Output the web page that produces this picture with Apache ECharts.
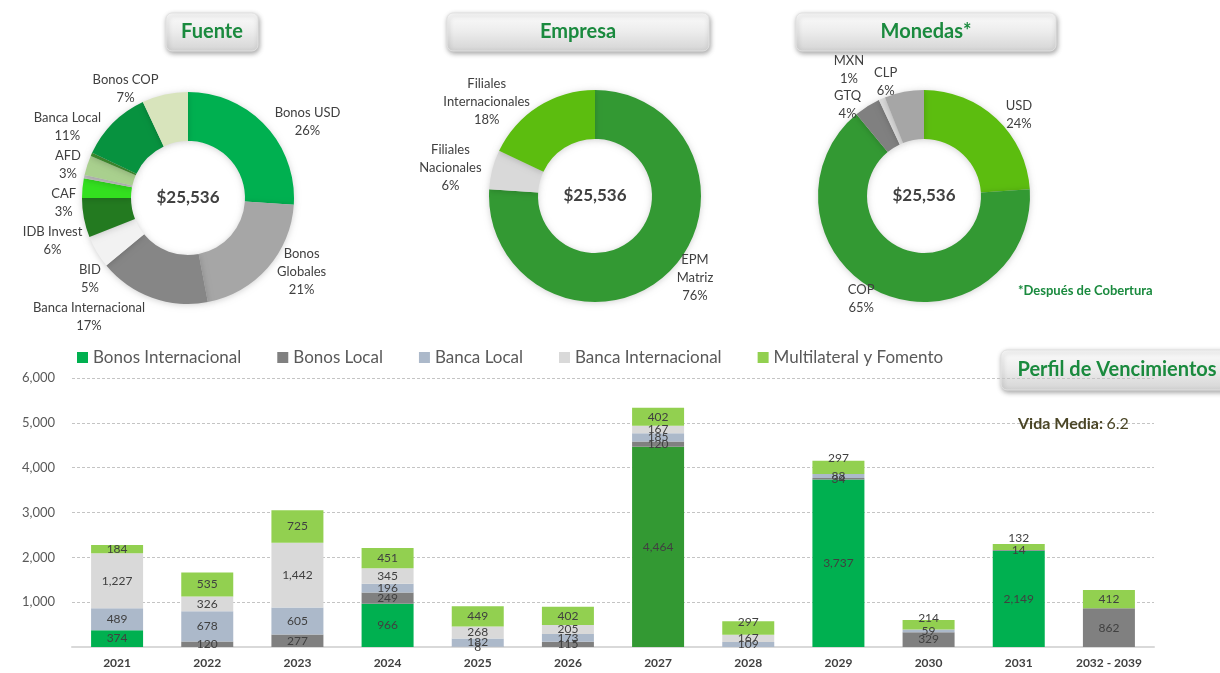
<!DOCTYPE html>
<html>
<head>
<meta charset="utf-8">
<script src="https://cdn.jsdelivr.net/npm/echarts@6/dist/echarts.min.js"></script>
<style>
html,body{margin:0;padding:0;background:#fff;}
#chart{width:1220px;height:673px;}
</style>
</head>
<body>
<div id="chart"></div>
<script>
// ---------- Donut data ----------
const totalDebt = '$25,536';

const fuenteNames  = ['Bonos USD','Bonos Globales','Banca Internacional','BID','IDB Invest','CAF','Otros A','AFD','Otros B','Banca Local','Bonos COP'];
const fuenteLabels = ['Bonos USD','Bonos\nGlobales','Banca Internacional','BID','IDB Invest','CAF','','AFD','','Banca Local','Bonos COP'];
const fuenteValues = [26, 21, 17, 5, 6, 3, 0.5, 3, 0.5, 11, 7];
const fuenteColors = ['#00b050','#a6a6a6','#868686','#f2f2f2','#237a20','#33e01f','#bfbfbf','#a9d08e','#3f8f2f','#07923f','#d8e4bc'];

const empresaNames  = ['EPM Matriz','Filiales Nacionales','Filiales Internacionales'];
const empresaLabels = ['EPM\nMatriz','Filiales\nNacionales','Filiales\nInternacionales'];
const empresaValues = [76, 6, 18];
const empresaColors = ['#339933','#d9d9d9','#5cbd0f'];

const monedasNames  = ['USD','COP','GTQ','MXN','CLP'];
const monedasValues = [24, 65, 4, 1, 6];
const monedasColors = ['#5cbd0f','#339933','#808080','#d9d9d9','#a6a6a6'];

// ---------- Bar data ----------
const categories = ['2021','2022','2023','2024','2025','2026','2027','2028','2029','2030','2031','2032 - 2039'];
const bonosInternacional = [374, 0, 0, 966, 0, 0, 4464, 0, 3737, 0, 2149, 0];
const bonosLocal         = [0, 120, 277, 249, 8, 115, 120, 0, 34, 329, 14, 862];
const bancaLocal         = [489, 678, 605, 196, 182, 173, 185, 109, 88, 59, 0, 0];
const bancaInternacional = [1227, 326, 1442, 345, 268, 205, 167, 167, 0, 0, 0, 0];
const multilateral       = [184, 535, 725, 451, 449, 402, 402, 297, 297, 214, 132, 412];
const yTicks = [0, 1000, 2000, 3000, 4000, 5000, 6000];

// style helpers
const FONT = 'Lato, "Open Sans", sans-serif';
const darkGreenCategory = '2027';
const topLabelDistance = {'2028': -7, '2029': -3, '2030': -4, '2031': 0};
const labelPush = {'MXN': 32, 'CLP': 10, 'GTQ': 2};

function pieLabelFormatter(labels) {
  return function (p) {
    const t = labels[p.dataIndex];
    if (!t) return '';
    return t.split('\n').map(s => '{c|' + s + '}').join('\n') + '\n{c|' + Math.round(p.value) + '%}';
  };
}

function pieSeries(names, labels, values, colors, center, avoid) {
  return {
    type: 'pie',
    center: center,
    radius: [57, 106],
    startAngle: 90,
    clockwise: true,
    avoidLabelOverlap: avoid,
    minShowLabelAngle: 0,
    silent: true,
    labelLayout: { hideOverlap: false },
    data: names.map((n, i) => {
      const d = { name: n, value: values[i], itemStyle: { color: colors[i] }, label: { show: !!labels[i] } };
      if (n in labelPush) d.labelLine = { show: false, length: labelPush[n], length2: 0 };
      return d;
    }),
    itemStyle: { shadowBlur: 6, shadowColor: 'rgba(0,0,0,0.18)', shadowOffsetY: 1 },
    label: {
      show: true,
      position: 'outside',
      formatter: pieLabelFormatter(labels),
      color: '#404040',
      fontFamily: FONT,
      fontSize: 13,
      lineHeight: 18,
      rich: { c: { align: 'center', color: '#404040', fontFamily: FONT, fontSize: 13, lineHeight: 18 } }
    },
    labelLine: { show: false, length: 6, length2: 0 }
  };
}

const fmt = v => v.toLocaleString('en-US');

function barSeries(name, values, color, extra) {
  return Object.assign({
    name: name,
    type: 'bar',
    stack: 'total',
    barWidth: 52,
    itemStyle: { color: color },
    label: {
      show: true,
      position: 'inside',
      color: '#404040',
      fontFamily: FONT,
      fontSize: 12,
      formatter: p => (p.value ? fmt(p.value) : '')
    },
    data: values.slice()
  }, extra || {});
}

const chart = echarts.init(document.getElementById('chart'), null, { renderer: 'canvas' });

function titleBox(x, y, w, h, text) {
  return {
    type: 'group', x: x, y: y, z: 100,
    children: [
      { type: 'rect', shape: { x: 0, y: 0, width: w, height: h, r: 6 },
        style: {
          fill: new echarts.graphic.LinearGradient(0, 0, 0, 1, [
            { offset: 0, color: '#fcfcfc' }, { offset: 0.5, color: '#ececec' }, { offset: 1, color: '#d4d4d4' }]),
          stroke: '#e2e2e2', lineWidth: 1,
          shadowBlur: 5, shadowOffsetX: 1, shadowOffsetY: 2, shadowColor: 'rgba(0,0,0,0.35)'
        } },
      { type: 'text', x: w / 2, y: h / 2,
        style: { text: text, align: 'center', verticalAlign: 'middle',
                 font: 'bold 20px ' + FONT, fill: '#1a8a3e' } }
    ]
  };
}

function centerText(x, y) {
  return { type: 'text', x: x, y: y, z: 50,
    style: { text: totalDebt, align: 'center', verticalAlign: 'middle',
             font: 'bold 17px ' + FONT, fill: '#404040' } };
}

const multiData = multilateral.map((v, i) => {
  const c = categories[i];
  if (c in topLabelDistance) {
    return { value: v, label: { position: 'top', distance: topLabelDistance[c] } };
  }
  return v;
});
const bonosIntData = bonosInternacional.map((v, i) =>
  categories[i] === darkGreenCategory ? { value: v, itemStyle: { color: '#339933' } } : v);

const option = {
  backgroundColor: '#ffffff',
  animation: false,
  textStyle: { fontFamily: FONT },
  legend: {
    top: 344, left: 72,
    itemWidth: 11, itemHeight: 11, itemGap: 36,
    icon: 'rect',
    textStyle: { fontSize: 17, color: '#595959', fontFamily: FONT },
    data: ['Bonos Internacional', 'Bonos Local', 'Banca Local', 'Banca Internacional', 'Multilateral y Fomento']
  },
  grid: { left: 72, right: 66, top: 378, bottom: 26, containLabel: false },
  xAxis: {
    type: 'category',
    data: categories,
    axisTick: { show: false },
    axisLine: { show: true, lineStyle: { color: '#d9d9d9', width: 2 } },
    axisLabel: { color: '#404040', fontWeight: 'bold', fontSize: 12, fontFamily: FONT, margin: 10, interval: 0 }
  },
  yAxis: {
    type: 'value',
    min: yTicks[0], max: yTicks[yTicks.length - 1], interval: yTicks[1] - yTicks[0],
    axisLine: { show: false },
    axisTick: { show: false },
    axisLabel: { color: '#595959', fontSize: 13, fontFamily: FONT, margin: 17,
                 formatter: v => (v === 0 ? '' : fmt(v)) },
    splitLine: { show: true, lineStyle: { color: '#c4c4c4', type: [3, 2], width: 1 } }
  },
  series: [
    pieSeries(fuenteNames, fuenteLabels, fuenteValues, fuenteColors, [188, 198], true),
    pieSeries(empresaNames, empresaLabels, empresaValues, empresaColors, [595, 196], true),
    pieSeries(monedasNames, monedasNames, monedasValues, monedasColors, [924, 196], false),
    barSeries('Bonos Internacional', bonosInternacional, '#00b050', { data: bonosIntData }),
    barSeries('Bonos Local', bonosLocal, '#808080'),
    barSeries('Banca Local', bancaLocal, '#acb9ca'),
    barSeries('Banca Internacional', bancaInternacional, '#d9d9d9'),
    barSeries('Multilateral y Fomento', multilateral, '#92d050', { data: multiData })
  ],
  graphic: [
    titleBox(166, 13, 92, 38, 'Fuente'),
    titleBox(447, 13, 262, 38, 'Empresa'),
    titleBox(796, 13, 260, 38, 'Monedas*'),
    titleBox(1001, 350, 232, 40, 'Perfil de Vencimientos'),
    centerText(188, 198),
    centerText(595, 196),
    centerText(924, 196),
    { type: 'text', x: 1018, y: 291, z: 50,
      style: { text: '*Después de Cobertura', align: 'left', verticalAlign: 'middle',
               font: 'bold 13px ' + FONT, fill: '#1a8a3e' } },
    { type: 'text', x: 1018, y: 424, z: 50,
      style: { text: '{b|Vida Media:} {n|6.2}', align: 'left', verticalAlign: 'middle',
               rich: { b: { font: 'bold 16px ' + FONT, fill: '#4a4526', color: '#4a4526' },
                       n: { font: '16px ' + FONT, fill: '#4a4526', color: '#4a4526' } } } }
  ]
};

chart.setOption(option);
</script>
</body>
</html>
